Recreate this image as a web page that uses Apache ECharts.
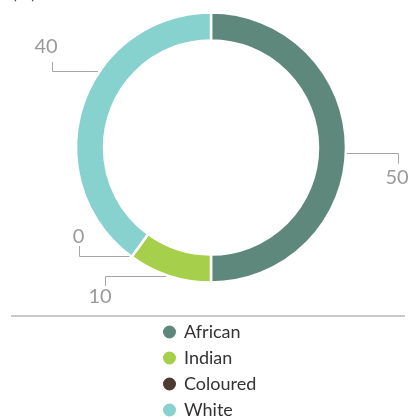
<!DOCTYPE html>
<html>
<head>
<meta charset="utf-8">
<script src="https://cdn.jsdelivr.net/npm/echarts@6/dist/echarts.min.js"></script>
<style>
  html, body { margin: 0; padding: 0; background: #fff; }
  #chart { width: 411px; height: 419px; }
</style>
</head>
<body>
<div id="chart"></div>
<script>
// Population groups and their shares (%)
const categories = ['African', 'Indian', 'Coloured', 'White'];
const shares = [50, 10, 0, 40];
const colors = ['#5e887c', '#a6cf4b', '#4f3a31', '#87d1cf'];

// Geometry of the ring
const cx = 211, cy = 147.5, rOuter = 135, rInner = 107;

// Leader lines: each goes from the ring to the value text
// (points in px, text centre in px)
const callouts = [
  { idx: 0, line: [[347, 153.5], [398.5, 153.5], [398.5, 163.5]], text: [397, 178] },
  { idx: 1, line: [[166, 276.5], [105.5, 276.5], [105.5, 286]], text: [100, 297] },
  { idx: 2, line: [[131, 256.5], [79.5, 256.5], [79.5, 246]], text: [78.5, 237] },
  { idx: 3, line: [[98, 71.5], [52.5, 71.5], [52.5, 62]], text: [46, 47] }
];

const chart = echarts.init(document.getElementById('chart'), null, { renderer: 'canvas' });

const graphics = [
  {
    type: 'text', left: 12, top: -16,
    style: { text: '(%)', fontSize: 18, fontFamily: 'Lato', fill: '#555' }
  },
  {
    type: 'line',
    shape: { x1: 11, y1: 316, x2: 405, y2: 316 },
    style: { stroke: '#c9c9c9', lineWidth: 2 }
  }
];
callouts.forEach(c => {
  graphics.push({
    type: 'polyline',
    shape: { points: c.line },
    style: { stroke: '#a6a6a6', lineWidth: 1, fill: null }
  });
  graphics.push({
    type: 'text',
    x: c.text[0], y: c.text[1],
    style: {
      text: String(shares[c.idx]),
      fontSize: 20, fontFamily: 'Lato', fill: '#9a9a9a',
      align: 'center', verticalAlign: 'middle'
    }
  });
});

chart.setOption({
  animation: false,
  color: colors,
  legend: {
    orient: 'vertical',
    left: 161, top: 323,
    padding: 0,
    height: 140,
    icon: 'circle',
    itemWidth: 15, itemHeight: 15,
    itemGap: 8,
    selectedMode: false,
    textStyle: { fontSize: 18, fontFamily: 'Lato', color: '#333', padding: [0, 0, 0, 2] },
    data: categories
  },
  graphic: graphics,
  series: [{
    type: 'pie',
    center: [cx, cy],
    radius: [rInner, rOuter],
    startAngle: 90,
    clockwise: true,
    avoidLabelOverlap: false,
    label: { show: false },
    labelLine: { show: false },
    emphasis: { disabled: true },
    itemStyle: { borderColor: '#fff', borderWidth: 2.5 },
    data: categories.map((name, i) => ({ name, value: shares[i] }))
  }]
});
</script>
</body>
</html>
